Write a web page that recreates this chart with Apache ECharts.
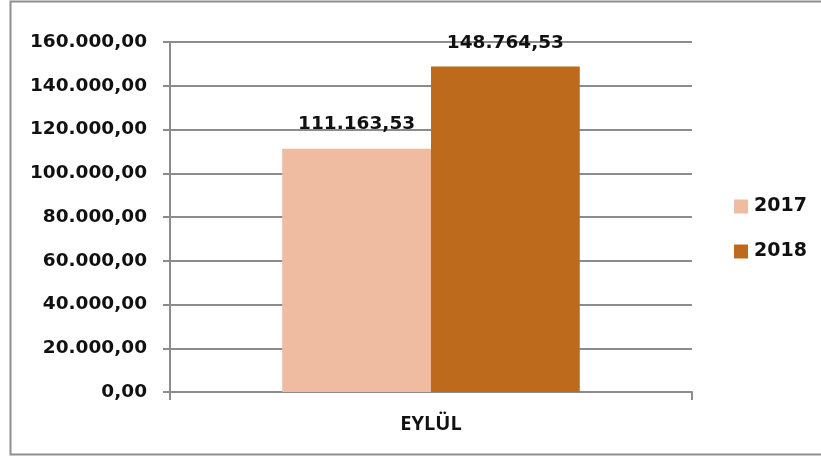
<!DOCTYPE html>
<html>
<head>
<meta charset="utf-8">
<script src="https://cdn.jsdelivr.net/npm/echarts@6/dist/echarts.min.js"></script>
<style>
  html, body { margin: 0; padding: 0; background: #fff; }
  #chart { width: 821px; height: 457px; }
</style>
</head>
<body>
<div id="chart"></div>
<script>
const categories = ['EYLÜL']
const seriesNames = ['2017', '2018']
const values2017 = [111163.53]
const values2018 = [148764.53]
const colors = ['#EFBBA1', '#BD6A1C']

// Turkish style: 148.764,53
function trNumber(v) {
  const parts = Number(v).toFixed(2).split('.')
  const intPart = parts[0].replace(/\B(?=(\d{3})+(?!\d))/g, '.')
  return intPart + ',' + parts[1]
}

const labelFont = {
  fontFamily: 'DejaVu Sans',
  fontWeight: 'bold',
  fontSize: 18.5,
  color: '#111'
}

const chart = echarts.init(document.getElementById('chart'))
chart.setOption({
  backgroundColor: '#fff',
  animation: false,
  graphic: [
    {
      type: 'rect',
      shape: { x: 10.5, y: 1.5, width: 850, height: 453 },
      style: { fill: 'none', stroke: '#8f8f8f', lineWidth: 2 },
      silent: true
    }
  ],
  grid: { left: 170, right: 129, top: 42, bottom: 65 },
  legend: {
    orient: 'vertical',
    left: 734,
    top: 197,
    padding: 0,
    itemWidth: 14,
    itemHeight: 14,
    itemGap: 26,
    icon: 'rect',
    textStyle: { ...labelFont, fontSize: 19, padding: [0, 0, 0, 1] },
    data: seriesNames
  },
  xAxis: {
    type: 'category',
    data: categories,
    axisLine: { lineStyle: { color: '#8c8c8c', width: 2 } },
    axisTick: { show: true, length: 8, lineStyle: { color: '#8c8c8c', width: 2 } },
    axisLabel: {
      margin: 22,
      fontFamily: 'Open Sans',
      fontWeight: 'bold',
      fontSize: 20,
      color: '#111'
    }
  },
  yAxis: {
    type: 'value',
    min: 0,
    max: 160000,
    interval: 20000,
    axisLine: { show: true, lineStyle: { color: '#8c8c8c', width: 2 } },
    axisTick: { show: true, length: 7, lineStyle: { color: '#8c8c8c', width: 2 } },
    splitLine: { lineStyle: { color: '#8c8c8c', width: 2 } },
    axisLabel: { ...labelFont, margin: 23, formatter: trNumber }
  },
  series: [
    {
      name: seriesNames[0],
      type: 'bar',
      data: values2017,
      barGap: '0%',
      barCategoryGap: '43%',
      itemStyle: { color: colors[0] },
      label: { show: true, position: 'top', distance: 15, ...labelFont, formatter: (p) => trNumber(p.value) }
    },
    {
      name: seriesNames[1],
      type: 'bar',
      data: values2018,
      barGap: '0%',
      barCategoryGap: '43%',
      itemStyle: { color: colors[1] },
      label: { show: true, position: 'top', distance: 14, ...labelFont, formatter: (p) => trNumber(p.value) }
    }
  ]
})
</script>
</body>
</html>
